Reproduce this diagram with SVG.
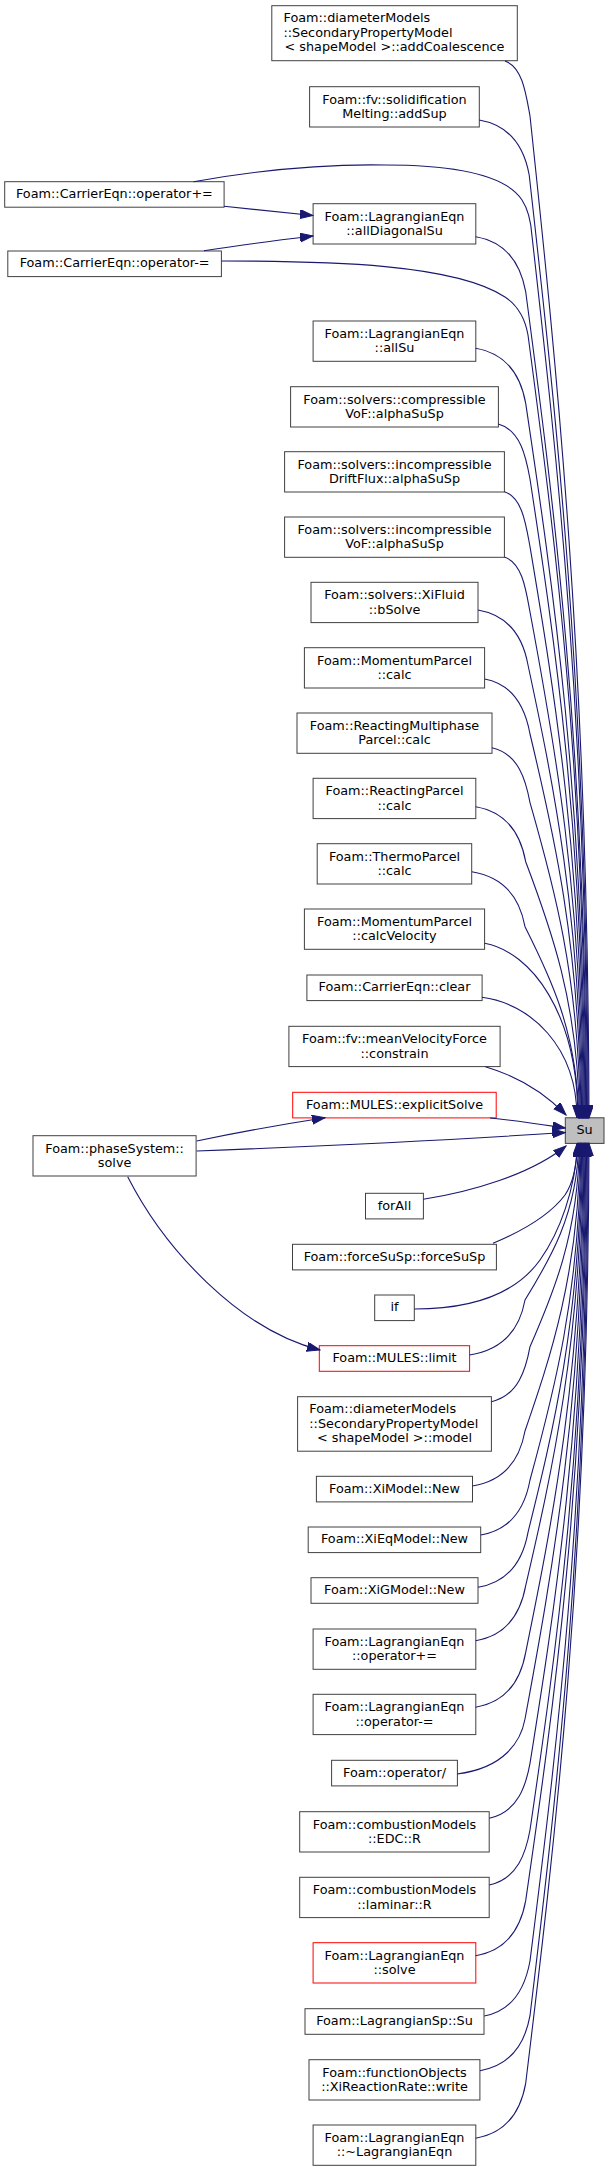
<svg xmlns="http://www.w3.org/2000/svg" width="609" height="2171" viewBox="0 0 609 2171">
<style>
rect{fill:#fff;stroke:#404040;stroke-width:1}
.red rect{stroke:#ff0000}
.main rect{fill:#bfbfbf}
text{font-family:"DejaVu Sans","Liberation Sans",sans-serif;font-size:12.8px;fill:#000}
.c{text-anchor:middle}
#edges path{fill:none;stroke:#191970;stroke-width:1.1;marker-end:url(#arr)}
</style>
<defs>
<marker id="arr" markerUnits="userSpaceOnUse" markerWidth="14" markerHeight="10" refX="13" refY="4.5" orient="auto">
<path d="M0,0L13,4.5L0,9z" fill="#191970" stroke="#191970" stroke-width="1"/>
</marker>
</defs>
<rect width="609" height="2171" style="fill:#fff;stroke:none"/>

<g id="n1"><rect x="271.8" y="5.7" width="245.5" height="55"/><text x="283.5" y="22">Foam::diameterModels</text><text x="283.5" y="36.5">::SecondaryPropertyModel</text><text class="c" x="394.5" y="51">&lt; shapeModel &gt;::addCoalescence</text></g>
<g id="n2"><rect x="309.6" y="86.7" width="169.7" height="40.3"/><text class="c" x="394.5" y="103.5">Foam::fv::solidification</text><text class="c" x="394.5" y="117.9">Melting::addSup</text></g>
<g id="n3"><rect x="4.7" y="181.7" width="219.4" height="25.5"/><text class="c" x="114.4" y="198.1">Foam::CarrierEqn::operator+=</text></g>
<g id="n4"><rect x="313.1" y="203.7" width="162.7" height="40.3"/><text class="c" x="394.5" y="220.5">Foam::LagrangianEqn</text><text class="c" x="394.5" y="234.9">::allDiagonalSu</text></g>
<g id="n5"><rect x="7.8" y="251" width="213.6" height="25.6"/><text class="c" x="114.6" y="267.4">Foam::CarrierEqn::operator-=</text></g>
<g id="n6"><rect x="313.1" y="321" width="162.7" height="40.3"/><text class="c" x="394.5" y="337.8">Foam::LagrangianEqn</text><text class="c" x="394.5" y="352.2">::allSu</text></g>
<g id="n7"><rect x="290.6" y="386.7" width="207.8" height="40.3"/><text class="c" x="394.5" y="403.5">Foam::solvers::compressible</text><text class="c" x="394.5" y="417.9">VoF::alphaSuSp</text></g>
<g id="n8"><rect x="284.6" y="451.7" width="219.8" height="40.3"/><text class="c" x="394.5" y="468.5">Foam::solvers::incompressible</text><text class="c" x="394.5" y="482.9">DriftFlux::alphaSuSp</text></g>
<g id="n9"><rect x="284.6" y="517" width="219.8" height="40.3"/><text class="c" x="394.5" y="533.8">Foam::solvers::incompressible</text><text class="c" x="394.5" y="548.2">VoF::alphaSuSp</text></g>
<g id="n10"><rect x="311" y="582.3" width="167" height="40.3"/><text class="c" x="394.5" y="599.1">Foam::solvers::XiFluid</text><text class="c" x="394.5" y="613.5">::bSolve</text></g>
<g id="n11"><rect x="304.4" y="647.7" width="180.2" height="40.3"/><text class="c" x="394.5" y="664.5">Foam::MomentumParcel</text><text class="c" x="394.5" y="678.9">::calc</text></g>
<g id="n12"><rect x="297" y="713" width="195" height="40.3"/><text class="c" x="394.5" y="729.8">Foam::ReactingMultiphase</text><text class="c" x="394.5" y="744.2">Parcel::calc</text></g>
<g id="n13"><rect x="313.1" y="778.3" width="162.7" height="40.3"/><text class="c" x="394.5" y="795.1">Foam::ReactingParcel</text><text class="c" x="394.5" y="809.5">::calc</text></g>
<g id="n14"><rect x="317.2" y="843.7" width="154.5" height="40.3"/><text class="c" x="394.5" y="860.5">Foam::ThermoParcel</text><text class="c" x="394.5" y="874.9">::calc</text></g>
<g id="n15"><rect x="304.4" y="909" width="180.2" height="40.3"/><text class="c" x="394.5" y="925.8">Foam::MomentumParcel</text><text class="c" x="394.5" y="940.2">::calcVelocity</text></g>
<g id="n16"><rect x="306.9" y="975" width="175.2" height="25.6"/><text class="c" x="394.5" y="991.4">Foam::CarrierEqn::clear</text></g>
<g id="n17"><rect x="288.9" y="1026.3" width="211.2" height="40.3"/><text class="c" x="394.5" y="1043.1">Foam::fv::meanVelocityForce</text><text class="c" x="394.5" y="1057.5">::constrain</text></g>
<g id="n18" class="red"><rect x="292.7" y="1092.3" width="203.5" height="25.6"/><text class="c" x="394.5" y="1108.7">Foam::MULES::explicitSolve</text></g>
<g id="su" class="main"><rect x="565.3" y="1117.8" width="38.7" height="25.6"/><text class="c" x="584.6" y="1134.2">Su</text></g>
<g id="n20"><rect x="33" y="1135.7" width="163.1" height="40.3"/><text class="c" x="114.6" y="1152.5">Foam::phaseSystem::</text><text class="c" x="114.6" y="1166.9">solve</text></g>
<g id="n21"><rect x="365.5" y="1193.3" width="57.9" height="25.6"/><text class="c" x="394.5" y="1209.7">forAll</text></g>
<g id="n22"><rect x="292.5" y="1244.3" width="203.9" height="25.6"/><text class="c" x="394.5" y="1260.7">Foam::forceSuSp::forceSuSp</text></g>
<g id="n23"><rect x="374.7" y="1295" width="39.6" height="25.6"/><text class="c" x="394.5" y="1311.4">if</text></g>
<g id="n24" class="red"><rect x="319.3" y="1345.7" width="150.3" height="25.6"/><text class="c" x="394.5" y="1362.1">Foam::MULES::limit</text></g>
<g id="n25"><rect x="297.6" y="1396.7" width="193.8" height="54.5"/><text x="309.3" y="1413">Foam::diameterModels</text><text x="309.3" y="1427.5">::SecondaryPropertyModel</text><text class="c" x="394.5" y="1442">&lt; shapeModel &gt;::model</text></g>
<g id="n26"><rect x="316.4" y="1476.3" width="156.1" height="25.6"/><text class="c" x="394.5" y="1492.7">Foam::XiModel::New</text></g>
<g id="n27"><rect x="308.2" y="1527" width="172.5" height="25.6"/><text class="c" x="394.5" y="1543.4">Foam::XiEqModel::New</text></g>
<g id="n28"><rect x="311" y="1577.7" width="167" height="25.6"/><text class="c" x="394.5" y="1594.1">Foam::XiGModel::New</text></g>
<g id="n29"><rect x="313.1" y="1629" width="162.7" height="40.3"/><text class="c" x="394.5" y="1645.8">Foam::LagrangianEqn</text><text class="c" x="394.5" y="1660.2">::operator+=</text></g>
<g id="n30"><rect x="313.1" y="1694.3" width="162.7" height="40.3"/><text class="c" x="394.5" y="1711.1">Foam::LagrangianEqn</text><text class="c" x="394.5" y="1725.5">::operator-=</text></g>
<g id="n31"><rect x="331.6" y="1760.3" width="125.8" height="25.6"/><text class="c" x="394.5" y="1776.7">Foam::operator/</text></g>
<g id="n32"><rect x="299.7" y="1811.7" width="189.5" height="40.3"/><text class="c" x="394.5" y="1828.5">Foam::combustionModels</text><text class="c" x="394.5" y="1842.9">::EDC::R</text></g>
<g id="n33"><rect x="299.7" y="1877.3" width="189.5" height="40.3"/><text class="c" x="394.5" y="1894.1">Foam::combustionModels</text><text class="c" x="394.5" y="1908.5">::laminar::R</text></g>
<g id="n34" class="red"><rect x="313.1" y="1942.7" width="162.7" height="40.3"/><text class="c" x="394.5" y="1959.5">Foam::LagrangianEqn</text><text class="c" x="394.5" y="1973.9">::solve</text></g>
<g id="n35"><rect x="305" y="2008.7" width="179" height="25.6"/><text class="c" x="394.5" y="2025.1">Foam::LagrangianSp::Su</text></g>
<g id="n36"><rect x="309" y="2059.7" width="170.9" height="40.3"/><text class="c" x="394.5" y="2076.5">Foam::functionObjects</text><text class="c" x="394.5" y="2090.9">::XiReactionRate::write</text></g>
<g id="n37"><rect x="313.1" y="2125" width="162.7" height="40.3"/><text class="c" x="394.5" y="2141.8">Foam::LagrangianEqn</text><text class="c" x="394.5" y="2156.2">::~LagrangianEqn</text></g>

<g id="edges">
<path d="M505,61C522.5,67 526,94 530,116C556.6,366.5 588,667.1 589,1118"/>
<path d="M479.2,120C514.2,126 525.2,153 529.2,175C555.8,410.8 587.2,693.7 588.2,1118"/>
<path d="M193.5,181.7C260,170 330,164 385,165C450,165 505,174 522,200C528,209 531,222 532,236C556.9,456.5 586.4,721.1 587.4,1118"/>
<path d="M224.1,206.3C255,209.5 285,212.5 313,215.5"/>
<path d="M204,250.7C240,245 280,240 313,236"/>
<path d="M475.7,236.7C510.7,242.7 521.7,269.7 525.7,291.7C553.1,498.3 585.6,746.2 586.6,1118"/>
<path d="M221.4,261C330,261 455,264 505,297C517,305 525,318 528,335C554,530.8 584.8,765.7 585.8,1118"/>
<path d="M475.7,348.3C510.7,354.3 521.7,381.3 525.7,403.3C552.4,582 584,796.4 585,1118"/>
<path d="M498.3,424C520.5,430 526,457 530,479C554.4,638.8 583.2,830.5 584.2,1118"/>
<path d="M504.5,491.7C522.4,497.7 526,524.7 530,546.7C554,689.5 582.4,860.9 583.4,1118"/>
<path d="M504.5,557C522.4,563 526,590 530,612C553.7,738.5 581.6,890.3 582.6,1118"/>
<path d="M478,610C513,616 524,643 528,665C552.2,778.3 580.8,914.2 581.8,1118"/>
<path d="M484.7,679C516.4,685 526,712 530,734C553,830 580,945.2 581,1118"/>
<path d="M492,747.7C518.6,753.7 526,780.7 530,802.7C552.6,881.5 579.2,976.1 580.2,1118"/>
<path d="M475.7,806.7C510.7,812.7 521.7,839.7 525.7,861.7C549.9,925.8 578.4,1002.7 579.4,1118"/>
<path d="M471.8,871.7C509,877.7 521,904.7 525,926.7C549.1,974.5 577.6,1031.9 578.6,1118"/>
<path d="M484.7,943.3C531.3,952 577.8,1013.2 577.8,1118"/>
<path d="M482,997.3C529.5,1003.3 577,1045.6 577,1118"/>
<path d="M485.4,1066.7C510,1074 540,1088 566,1115"/>
<path d="M490,1118C520,1121 545,1125 565.3,1128"/>
<path d="M196.7,1141C240,1132 285,1124 325,1117.8"/>
<path d="M196.7,1151C300,1147 450,1140 565.3,1132.5"/>
<path d="M127.7,1176.7C165,1250 240,1330 320,1350"/>
<path d="M423.3,1199.3C470,1192 530,1175 566,1146"/>
<path d="M493,1243.3C520,1232 550,1215 565,1195C573,1183 577,1165 577,1143.5"/>
<path d="M414.4,1309C470,1309 515,1295 540,1260C560,1232 575,1190 577.8,1143.5"/>
<path d="M469.5,1355C508.4,1349 521,1322 525,1300C549.1,1260.9 577.6,1213.9 578.6,1143.5"/>
<path d="M491.3,1401.7C518.4,1395.7 526,1368.7 530,1346.7C552.2,1296 578.4,1234.9 579.4,1143.5"/>
<path d="M472.6,1486C509.3,1480 521,1453 525,1431C549.8,1359.1 579.2,1272.9 580.2,1143.5"/>
<path d="M480.8,1535C515.2,1529 526,1502 530,1480C553,1395.9 580,1294.9 581,1143.5"/>
<path d="M478,1587.3C513,1581.3 524,1554.3 528,1532.3C552.2,1435.1 580.8,1318.5 581.8,1143.5"/>
<path d="M475.7,1640.7C510.7,1634.7 521.7,1607.7 525.7,1585.7C551.3,1475.2 581.6,1342.5 582.6,1143.5"/>
<path d="M475.7,1707.3C510.7,1701.3 521.7,1674.3 525.7,1652.3C551.7,1525.1 582.4,1372.5 583.4,1143.5"/>
<path d="M457.1,1774C504.6,1768 521,1741 525,1719C551.6,1575.1 583.2,1402.5 584.2,1143.5"/>
<path d="M489.3,1818.3C517.8,1812.3 526,1785.3 530,1763.3C554.8,1608.4 584,1422.4 585,1143.5"/>
<path d="M489.3,1885C517.8,1879 526,1852 530,1830C555.1,1658.4 584.8,1452.4 585.8,1143.5"/>
<path d="M475.7,1955.7C510.7,1949.7 521.7,1922.7 525.7,1900.7C553.1,1711.4 585.6,1484.2 586.6,1143.5"/>
<path d="M484.3,2016C516.3,2010 526,1983 530,1961C555.8,1756.6 586.4,1511.4 587.4,1143.5"/>
<path d="M480,2070.7C515,2064.7 526,2037.7 530,2015.7C556.2,1797.7 587.2,1536 588.2,1143.5"/>
<path d="M475.7,2138.3C510.7,2132.3 521.7,2105.3 525.7,2083.3C554.2,1848.4 588,1566.4 589,1143.5"/>
</g>
</svg>
